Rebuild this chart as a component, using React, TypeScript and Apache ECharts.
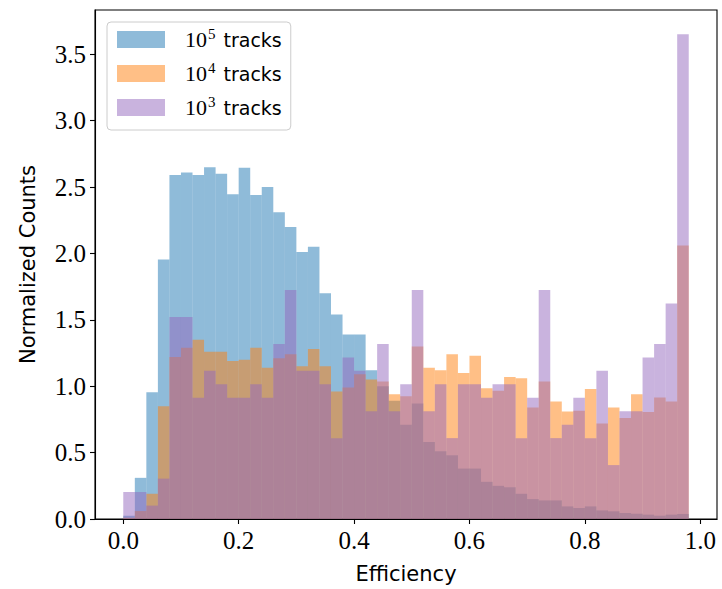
import React, { useEffect, useRef } from "react";
import * as echarts from "echarts";

// Histogram bins: 49 bins of width 0.02 starting at 0
const BIN_WIDTH = 0.02;
const BIN_COUNT = 49;

const SERIES_NAMES = ["10⁵ tracks", "10⁴ tracks", "10³ tracks"];
const SERIES_EXPONENTS = ["5", "4", "3"];
const SERIES_COLORS = [
  "rgba(31,119,180,0.5)",
  "rgba(255,127,14,0.5)",
  "rgba(148,103,189,0.5)",
];

// Normalized counts per bin
const TRACKS_1E5 = [
  0.025, 0.31, 0.955, 1.955, 2.59, 2.61, 2.59, 2.65, 2.6, 2.445,
  2.645, 2.44, 2.5, 2.31, 2.2, 2.01, 2.05, 1.7, 1.54, 1.39,
  1.39, 1.12, 1.0, 0.89, 0.71, 0.87, 0.58, 0.51, 0.48, 0.38,
  0.38, 0.28, 0.25, 0.24, 0.19, 0.15, 0.14, 0.14, 0.095, 0.083,
  0.095, 0.065, 0.058, 0.045, 0.04, 0.033, 0.025, 0.033, 0.038,
];
const TRACKS_1E4 = [
  0.01, 0.06, 0.19, 0.85, 1.22, 1.29, 1.35, 1.26, 1.26, 1.19,
  1.2, 1.29, 1.14, 1.21, 1.24, 1.15, 1.28, 1.15, 0.96, 0.99,
  1.09, 1.05, 1.035, 0.94, 0.925, 1.3, 1.14, 1.12, 1.24, 1.1,
  1.23, 0.985, 0.965, 1.07, 1.06, 0.84, 1.035, 0.885, 0.81, 0.815,
  0.98, 0.72, 0.84, 0.76, 0.94, 0.805, 0.915, 0.885, 2.06,
];
const TRACKS_1E3 = [
  0.203, 0.203, 0.101, 0.304, 1.521, 1.521, 0.913, 1.116, 1.014, 0.913,
  0.913, 1.014, 0.913, 1.318, 1.724, 1.116, 1.116, 1.014, 0.609, 1.217,
  1.116, 0.811, 1.318, 0.811, 1.014, 1.724, 0.811, 1.014, 0.609, 1.014,
  1.014, 0.913, 1.014, 1.014, 0.609, 0.913, 1.724, 0.609, 0.71, 0.913,
  0.609, 1.116, 0.406, 0.811, 0.811, 1.217, 1.318, 1.623, 3.651,
];
const SERIES_VALUES = [TRACKS_1E5, TRACKS_1E4, TRACKS_1E3];

const X_TICKS = [0, 0.2, 0.4, 0.6, 0.8, 1.0];
const Y_TICKS = [0, 0.5, 1.0, 1.5, 2.0, 2.5, 3.0, 3.5];

const SERIF = "'Liberation Serif', 'DejaVu Serif', serif";
const SANS = "'DejaVu Sans', sans-serif";

export default function App() {
  const ref = useRef<HTMLDivElement>(null);

  useEffect(() => {
    if (!ref.current) return;
    const chart = echarts.init(ref.current, null, { renderer: "svg" });

    // axis extents with 5% padding around the data, like the plotting default
    const xLo = 0;
    const xHi = BIN_COUNT * BIN_WIDTH;
    const xPad = (xHi - xLo) * 0.05;
    const yMax = Math.max(...TRACKS_1E5, ...TRACKS_1E4, ...TRACKS_1E3) * 1.05;

    const series = SERIES_VALUES.map((vals, s) => ({
      type: "custom",
      name: SERIES_NAMES[s],
      itemStyle: { color: SERIES_COLORS[s] },
      encode: { x: [0, 1], y: 2 },
      data: vals.map((v, i) => [i * BIN_WIDTH, (i + 1) * BIN_WIDTH, v]),
      renderItem: (_params: any, api: any) => {
        const p0 = api.coord([api.value(0), api.value(2)]);
        const p1 = api.coord([api.value(1), 0]);
        return {
          type: "rect",
          shape: { x: p0[0], y: p0[1], width: p1[0] - p0[0], height: p1[1] - p0[1] },
          style: { fill: api.visual("color") },
        };
      },
    }));

    chart.setOption({
      animation: false,
      backgroundColor: "#ffffff",
      grid: {
        left: 95,
        right: 5,
        top: 10,
        bottom: 67,
        show: true,
        borderColor: "#000",
        borderWidth: 1.1,
        backgroundColor: "transparent",
      },
      legend: {
        orient: "vertical",
        left: 107,
        top: 22,
        icon: "rect",
        itemWidth: 48,
        itemHeight: 17,
        itemGap: 7,
        padding: [4, 9, 9, 10],
        backgroundColor: "rgba(255,255,255,0.8)",
        borderColor: "#cccccc",
        borderWidth: 1,
        borderRadius: 4,
        data: SERIES_NAMES,
        formatter: (name: string) => {
          const idx = SERIES_NAMES.indexOf(name);
          return `{b|10}{s|${SERIES_EXPONENTS[idx]}}{t|tracks}`;
        },
        textStyle: {
          rich: {
            b: {
              fontFamily: SERIF,
              fontSize: 22,
              color: "#000",
              lineHeight: 24,
              padding: [0, 0, 0, 15],
            },
            s: {
              fontFamily: SERIF,
              fontSize: 15,
              color: "#000",
              lineHeight: 24,
              padding: [0, 0, 12, 1],
            },
            t: {
              fontFamily: SANS,
              fontSize: 19,
              color: "#000",
              lineHeight: 24,
              padding: [0, 0, 0, 8],
            },
          },
        },
      },
      xAxis: {
        type: "value",
        min: xLo - xPad,
        max: xHi + xPad,
        z: 10,
        name: "Efficiency",
        nameLocation: "middle",
        nameGap: 44,
        nameTextStyle: { fontFamily: SANS, fontSize: 21, color: "#000" },
        splitLine: { show: false },
        axisLine: { show: true, onZero: false, lineStyle: { color: "#000", width: 1.1 } },
        axisTick: {
          show: true,
          length: 5,
          inside: false,
          customValues: X_TICKS,
          lineStyle: { color: "#000", width: 1.1 },
        },
        axisLabel: {
          customValues: X_TICKS,
          formatter: (v: number) => v.toFixed(1),
          fontFamily: SERIF,
          fontSize: 25,
          color: "#000",
          margin: 9,
        },
      },
      yAxis: {
        type: "value",
        min: 0,
        max: yMax,
        z: 10,
        name: "Normalized Counts",
        nameLocation: "middle",
        nameGap: 57,
        nameTextStyle: { fontFamily: SANS, fontSize: 21, color: "#000" },
        splitLine: { show: false },
        axisLine: { show: true, onZero: false, lineStyle: { color: "#000", width: 1.1 } },
        axisTick: {
          show: true,
          length: 5,
          inside: false,
          customValues: Y_TICKS,
          lineStyle: { color: "#000", width: 1.1 },
        },
        axisLabel: {
          customValues: Y_TICKS,
          formatter: (v: number) => v.toFixed(1),
          fontFamily: SERIF,
          fontSize: 25,
          color: "#000",
          margin: 9,
        },
      },
      series,
    });

    return () => chart.dispose();
  }, []);

  return (
    <div
      ref={ref}
      style={{ position: "absolute", left: 0, top: 0, width: 722, height: 589 }}
    />
  );
}
